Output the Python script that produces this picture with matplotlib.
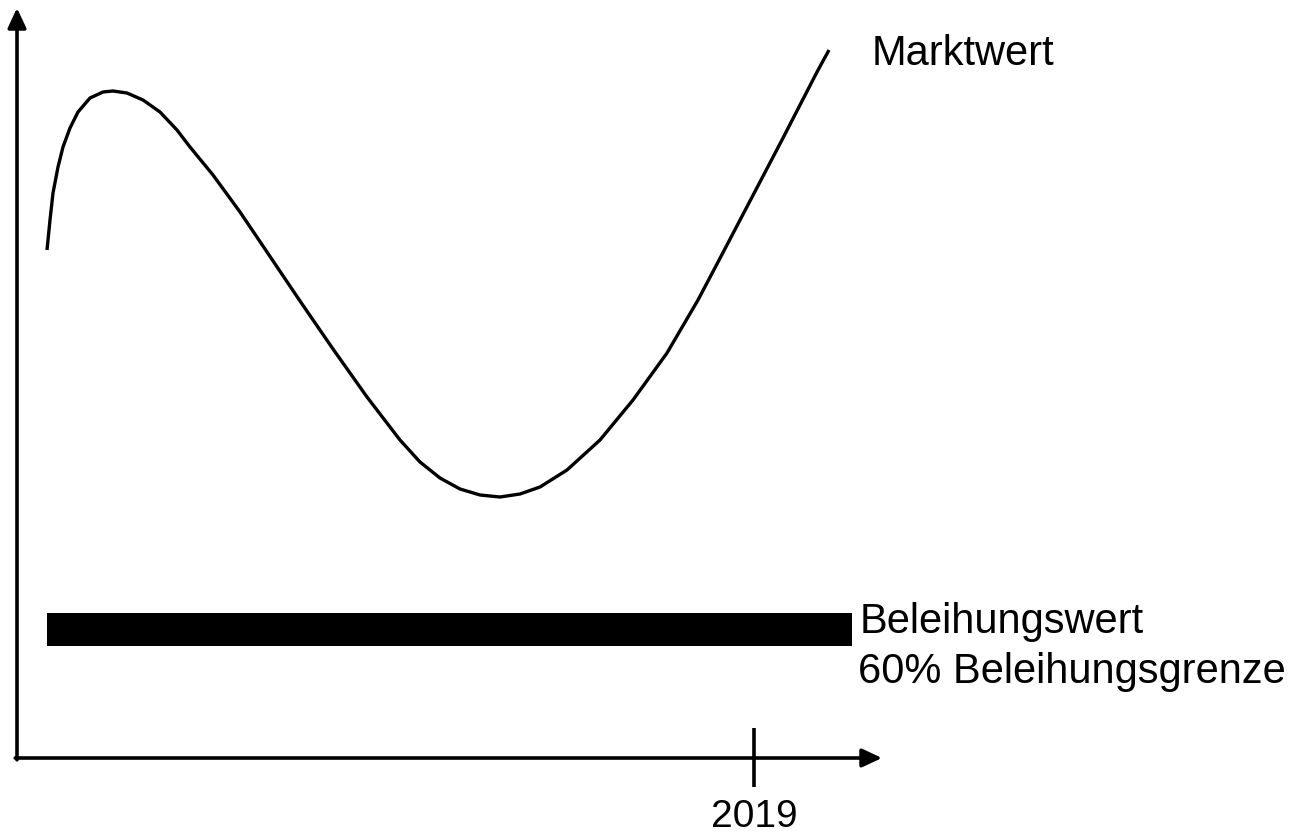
import matplotlib
matplotlib.use("Agg")
import matplotlib.pyplot as plt

plt.rcParams['font.family'] = ['Liberation Sans', 'DejaVu Sans']

# Market value curve (time units, value units above the x axis)
zeit = [30, 33, 36, 41, 46, 53, 61, 73, 86, 96, 110, 126, 143, 160, 173, 196, 223,
        250, 283, 316, 350, 383, 403, 423, 443, 463, 483, 503, 523, 550, 583, 616,
        650, 681, 700, 733, 766, 800, 812]
marktwert = [508, 538, 565, 591, 611, 630, 646, 660, 666, 667, 665, 658, 646, 628,
             611, 583, 546, 506, 457, 409, 361, 318, 296, 280, 269, 263, 261, 264,
             271, 288, 318, 358, 405, 458, 494, 557, 620, 686, 708]

# Lending value bar
beleihung_start = 30
beleihung_ende = 835
beleihung_wert = 128.5
beleihung_dicke = 33

# x tick
jahr = 737
jahr_label = "2019"

x_achse_ende = 865
y_achse_ende = 750

fig = plt.figure(figsize=(13.02, 8.33), dpi=100)
ax = fig.add_axes([0, 0, 1, 1])
ax.set_xlim(-17, 1285)
ax.set_ylim(-75, 758)
ax.axis('off')

# axes with arrows
arrow = dict(arrowstyle='-|>,head_length=0.6,head_width=0.28', lw=2.6,
             color='black', mutation_scale=20, shrinkA=0, shrinkB=0)
ax.annotate('', xy=(0, y_achse_ende), xytext=(0, -1.8), arrowprops=arrow)
ax.annotate('', xy=(x_achse_ende, 0), xytext=(-1.8, 0), arrowprops=arrow)

# tick
ax.plot([jahr, jahr], [-29, 30], color='black', lw=2.6, solid_capstyle='butt')
ax.text(jahr, -69, jahr_label, ha='center', va='baseline', fontsize=28)

# curve
ax.plot(zeit, marktwert, color='black', lw=2.4, solid_capstyle='butt',
        solid_joinstyle='round')
ax.text(855, 693, "Marktwert", ha='left', va='baseline', fontsize=30)

# bar
ax.barh([beleihung_wert], [beleihung_ende - beleihung_start], left=beleihung_start,
        height=beleihung_dicke, color='black')
ax.text(843, 125, "Beleihungswert", ha='left', va='baseline', fontsize=30)
ax.text(841, 75, "60% Beleihungsgrenze", ha='left', va='baseline', fontsize=30)

fig.savefig("out.png", dpi=100)
